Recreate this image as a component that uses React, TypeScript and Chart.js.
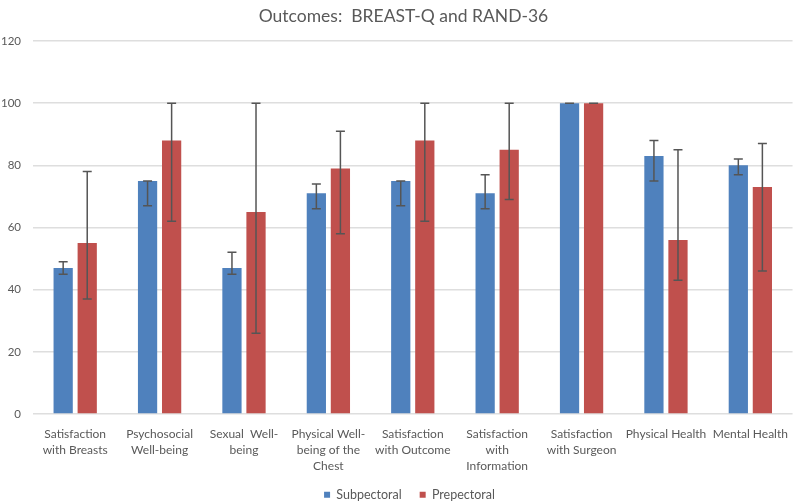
import React, { useEffect, useRef } from "react";
import { Chart, registerables } from "chart.js";

Chart.register(...registerables);

const categories: (string | string[])[] = [
  ["Satisfaction", "with Breasts"],
  ["Psychosocial", "Well-being"],
  ["Sexual  Well-", "being"],
  ["Physical Well-", "being of the", "Chest"],
  ["Satisfaction", "with Outcome"],
  ["Satisfaction", "with", "Information"],
  ["Satisfaction", "with Surgeon"],
  "Physical Health",
  "Mental Health",
];

const subpectoral = [47, 75, 47, 71, 75, 71, 100, 83, 80];
const subpectoralLow = [45, 67, 45, 66, 67, 66, 100, 75, 77];
const subpectoralHigh = [49, 75, 52, 74, 75, 77, 100, 88, 82];

const prepectoral = [55, 88, 65, 79, 88, 85, 100, 56, 73];
const prepectoralLow = [37, 62, 26, 58, 62, 69, 100, 43, 46];
const prepectoralHigh = [78, 100, 100, 91, 100, 100, 100, 85, 87];

const yTicks = [0, 20, 40, 60, 80, 100, 120];

const errorLows = [subpectoralLow, prepectoralLow];
const errorHighs = [subpectoralHigh, prepectoralHigh];

const FONT = "Lato, 'Open Sans', sans-serif";
const TEXT = "#595959";

const errorBarPlugin = {
  id: "errorBars",
  afterLayout(chart: any) {
    if (chart.legend) {
      chart.legend.left += 10;
      chart.legend.right += 10;
    }
    if (chart.titleBlock) {
      chart.titleBlock.left += 4;
      chart.titleBlock.right += 4;
    }
  },
  afterDatasetsDraw(chart: any) {
    const ctx = chart.ctx;
    const yScale = chart.scales.y;
    ctx.save();
    ctx.strokeStyle = "#555555";
    ctx.lineWidth = 1.5;
    chart.data.datasets.forEach((_ds: any, di: number) => {
      const meta = chart.getDatasetMeta(di);
      meta.data.forEach((bar: any, i: number) => {
        const x = bar.x;
        const yl = yScale.getPixelForValue(errorLows[di][i]);
        const yh = yScale.getPixelForValue(errorHighs[di][i]);
        const cap = 4.5;
        ctx.beginPath();
        ctx.moveTo(x, yl);
        ctx.lineTo(x, yh);
        ctx.moveTo(x - cap, yl);
        ctx.lineTo(x + cap, yl);
        ctx.moveTo(x - cap, yh);
        ctx.lineTo(x + cap, yh);
        ctx.stroke();
      });
    });
    ctx.restore();
  },
};

export default function App() {
  const ref = useRef<HTMLCanvasElement>(null);
  useEffect(() => {
    if (!ref.current) return;
    const chart = new Chart(ref.current, {
      type: "bar",
      data: {
        labels: categories,
        datasets: [
          {
            label: "Subpectoral",
            data: subpectoral,
            backgroundColor: "#4F81BD",
            categoryPercentage: 0.57,
            barPercentage: 0.8,
          },
          {
            label: "Prepectoral",
            data: prepectoral,
            backgroundColor: "#C0504D",
            categoryPercentage: 0.57,
            barPercentage: 0.8,
          },
        ],
      },
      plugins: [errorBarPlugin],
      options: {
        animation: false,
        responsive: false,
        layout: { padding: { left: 0, right: 1, top: 0, bottom: 0 } },
        plugins: {
          title: {
            display: true,
            text: "Outcomes:  BREAST-Q and RAND-36",
            color: TEXT,
            font: { family: FONT, size: 17.5, weight: "normal" },
            padding: { top: 6, bottom: 14 },
          },
          legend: {
            position: "bottom",
            labels: {
              color: TEXT,
              font: { family: FONT, size: 12.5 },
              boxWidth: 6,
              boxHeight: 6,
              padding: 18,
            },
          },
          tooltip: { enabled: false },
        },
        scales: {
          x: {
            grid: { display: false, drawTicks: false },
            border: { display: false },
            ticks: {
              color: TEXT,
              font: { family: FONT, size: 12, lineHeight: 1.33 },
              padding: 12,
              maxRotation: 0,
              autoSkip: false,
            },
            afterFit(scale: any) {
              scale.height = 56.5;
            },
          },
          y: {
            min: 0,
            max: 120,
            afterBuildTicks(scale: any) {
              scale.ticks = yTicks.map((v) => ({ value: v }));
            },
            grid: { color: "#dedede", lineWidth: 1.6, drawTicks: false },
            border: { display: false },
            ticks: {
              color: TEXT,
              font: { family: FONT, size: 11.5 },
              padding: 12,
            },
            afterFit(scale: any) {
              scale.width = 33;
            },
          },
        },
      },
    });
    return () => chart.destroy();
  }, []);
  return (
    <div style={{ position: "fixed", left: 0, top: 0, width: 800, height: 503, overflow: "hidden", background: "#fff" }}>
      <canvas ref={ref} width={800} height={511} style={{ display: "block" }} />
    </div>
  );
}
